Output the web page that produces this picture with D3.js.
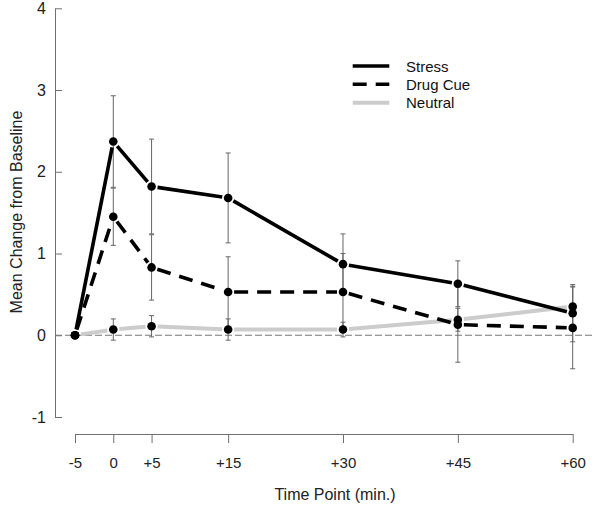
<!DOCTYPE html>
<html>
<head>
<meta charset="utf-8">
<script src="https://cdn.jsdelivr.net/npm/d3@7"></script>
<style>
  html, body { margin: 0; padding: 0; background: #fff; }
  svg { display: block; font-family: "Liberation Sans", Arial, sans-serif; }
</style>
</head>
<body>
<svg id="chart" width="600" height="509"></svg>
<script>
// ---- data ----
const timeValues = [-5, 0, 5, 15, 30, 45, 60];
const timeLabels = ["-5", "0", "+5", "+15", "+30", "+45", "+60"];
const yTicks = [-1, 0, 1, 2, 3, 4];
const yTickLabels = ["-1", "0", "1", "2", "3", "4"];

const seriesNames = ["Stress", "Drug Cue", "Neutral"];
const stress     = [0, 2.37, 1.82, 1.68, 0.87, 0.63, 0.27];
const stressErr  = [0, 0.56, 0.58, 0.55, 0.37, 0.28, 0.35];
const drugCue    = [0, 1.45, 0.83, 0.53, 0.53, 0.13, 0.09];
const drugCueErr = [0, 0.35, 0.40, 0.43, 0.47, 0.46, 0.50];
const neutral    = [0, 0.07, 0.11, 0.07, 0.07, 0.19, 0.35];
const neutralErr = [0, 0.13, 0.13, 0.13, 0.09, 0.14, 0.25];

const xTitle = "Time Point (min.)";
const yTitle = "Mean Change from Baseline";

// ---- styles ----
const styles = [
  { color: "#000", width: 3.6, dash: null },
  { color: "#000", width: 3.6, dash: "14,9" },
  { color: "#cccccc", width: 4, dash: null }
];
const seriesVals = [stress, drugCue, neutral];
const seriesErrs = [stressErr, drugCueErr, neutralErr];

const svg = d3.select("#chart");
const x = d3.scaleLinear().domain([-5, 60]).range([75, 572.7]);
const y = d3.scaleLinear().domain([-1, 4]).range([417, 8.3]);
const axisColor = "#707070";

// y axis
const yAxis = svg.append("g").attr("transform", "translate(55,0)")
  .call(d3.axisLeft(y).tickValues(yTicks)
        .tickFormat((d, i) => yTickLabels[i])
        .tickSizeInner(-7).tickSizeOuter(0).tickPadding(9));
yAxis.selectAll("path,line").attr("stroke", axisColor);
yAxis.selectAll("text").attr("font-size", 16).attr("fill", "#222")
  .attr("font-family", "Liberation Sans, Arial, sans-serif");

// x axis
const xAxis = svg.append("g").attr("transform", "translate(0,434)")
  .call(d3.axisBottom(x).tickValues(timeValues)
        .tickFormat((d, i) => timeLabels[i])
        .tickSizeInner(9).tickSizeOuter(0).tickPadding(14));
xAxis.selectAll("path,line").attr("stroke", axisColor);
xAxis.selectAll("text").attr("font-size", 15).attr("fill", "#222")
  .attr("font-family", "Liberation Sans, Arial, sans-serif");

// titles
svg.append("text").attr("x", 335).attr("y", 500).attr("text-anchor", "middle")
  .attr("font-size", 16).attr("fill", "#222").text(xTitle);
svg.append("text").attr("transform", "translate(16,212) rotate(-90)")
  .attr("text-anchor", "middle").attr("dominant-baseline", "central")
  .attr("font-size", 16).attr("fill", "#222").text(yTitle);

// zero reference line
svg.append("line").attr("x1", 55).attr("x2", 593)
  .attr("y1", y(0)).attr("y2", y(0))
  .attr("stroke", "#777").attr("stroke-width", 1).attr("stroke-dasharray", "7,3");

// error bars
seriesVals.forEach((vals, s) => {
  const errs = seriesErrs[s];
  const g = svg.append("g");
  vals.forEach((v, i) => {
    if (!errs[i]) return;
    const cx = x(timeValues[i]);
    const y1 = y(v + errs[i]), y2 = y(v - errs[i]);
    g.append("line").attr("x1", cx).attr("x2", cx).attr("y1", y1).attr("y2", y2)
      .attr("stroke", "#666").attr("stroke-width", 1);
    [y1, y2].forEach(yy => g.append("line").attr("x1", cx - 2.5).attr("x2", cx + 2.5)
      .attr("y1", yy).attr("y2", yy).attr("stroke", "#666").attr("stroke-width", 1));
  });
});

// lines (type "b": gaps around points)
const gap = 6;
[2, 1, 0].forEach(s => {
  const vals = seriesVals[s];
  const st = styles[s];
  const g = svg.append("g");
  for (let i = 0; i < vals.length - 1; i++) {
    const x1 = x(timeValues[i]), y1 = y(vals[i]);
    const x2 = x(timeValues[i + 1]), y2 = y(vals[i + 1]);
    const len = Math.hypot(x2 - x1, y2 - y1);
    const ux = (x2 - x1) / len, uy = (y2 - y1) / len;
    const ln = g.append("line")
      .attr("x1", x1 + ux * gap).attr("y1", y1 + uy * gap)
      .attr("x2", x2 - ux * gap).attr("y2", y2 - uy * gap)
      .attr("stroke", st.color).attr("stroke-width", st.width);
    if (st.dash) ln.attr("stroke-dasharray", st.dash);
  }
});

// points
seriesVals.forEach((vals, s) => {
  svg.append("g").selectAll("circle").data(vals).join("circle")
    .attr("cx", (d, i) => x(timeValues[i])).attr("cy", d => y(d))
    .attr("r", 4.3).attr("fill", "#000");
});

// legend
const legend = svg.append("g");
const legY = [66, 84.3, 102.7];
seriesNames.forEach((name, s) => {
  const st = styles[s];
  const ln = legend.append("line").attr("x1", 352.7).attr("x2", 389.3)
    .attr("y1", legY[s]).attr("y2", legY[s])
    .attr("stroke", st.color).attr("stroke-width", st.width);
  if (st.dash) ln.attr("stroke-dasharray", st.dash);
  legend.append("text").attr("x", 406).attr("y", legY[s])
    .attr("dominant-baseline", "central").attr("font-size", 15).attr("fill", "#111")
    .text(name);
});
</script>
</body>
</html>
